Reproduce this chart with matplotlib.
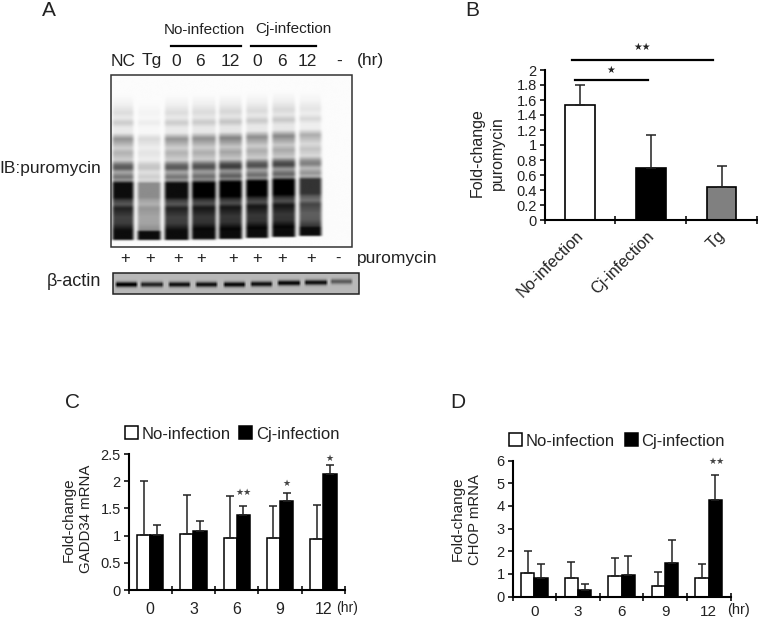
import numpy as np
import matplotlib
matplotlib.use("Agg")
import matplotlib.pyplot as plt

plt.rcParams['font.family'] = ['Liberation Sans', 'DejaVu Sans']
plt.rcParams['text.color'] = '#222222'
plt.rcParams['xtick.color'] = '#222222'
plt.rcParams['ytick.color'] = '#222222'

W, H = 758, 619

# panel B
b_names = ['No-infection', 'Cj-infection', 'Tg']
b_values = [1.54, 0.70, 0.44]
b_tops = [1.80, 1.13, 0.72]
b_colors = ['white', 'black', '#808080']
b_ticks = [0, 0.2, 0.4, 0.6, 0.8, 1, 1.2, 1.4, 1.6, 1.8, 2]

# panel C
hours = ['0', '3', '6', '9', '12']
c_none = [1.01, 1.03, 0.96, 0.96, 0.93]
c_none_tops = [2.00, 1.74, 1.72, 1.54, 1.56]
c_cj = [1.01, 1.08, 1.38, 1.63, 2.13]
c_cj_tops = [1.20, 1.26, 1.54, 1.79, 2.29]
c_ticks = [0, 0.5, 1, 1.5, 2, 2.5]

# panel D
d_none = [1.02, 0.80, 0.92, 0.47, 0.80]
d_none_tops = [2.02, 1.52, 1.68, 1.08, 1.42]
d_cj = [0.80, 0.30, 0.97, 1.47, 4.25]
d_cj_tops = [1.42, 0.53, 1.80, 2.50, 5.37]
d_ticks = [0, 1, 2, 3, 4, 5, 6]

# blot A, band profile read down a lane (y pixel, darkness)
band_y = [92, 105, 113, 118, 123, 128, 133, 139, 143, 148, 153, 160, 165, 168, 172, 177, 180, 183,
          197, 200, 204, 208, 217, 223, 230, 237, 239, 240]
band_dark = [0, .07, .16, .1, .24, .1, .1, .5, .38, .22, .36, .22, .7, .78, .4, .65, .45, 1,
             1, .8, .68, .92, .78, .8, 1, 1, 1, 0]
lane_left = [113, 138, 165, 192, 219, 246, 272, 299]
lane_right = [134, 161, 189, 216, 242, 268, 295, 321]
lane_upper = [.85, .3, .85, .9, 1, .9, .95, .65]
lane_lower = [.95, .45, .95, 1, 1, 1, 1, .8]
lane_shift = [0, 0, 0, -.5, -1, -2, -3, -4]

actin_left = [115, 140, 168, 195, 223, 250, 277, 304, 330]
actin_right = [137, 163, 190, 217, 245, 272, 300, 327, 352]
actin_strength = [1, .8, .9, .9, .95, .9, .95, .9, .5]
actin_y = [284, 284, 284, 284, 284, 283.5, 282.5, 282, 281]


def px_axes(left, right, top, bottom):
    return fig.add_axes([left / W, 1 - bottom / H, (right - left) / W, (bottom - top) / H])


def soften(img):
    kernel = [.25, .5, .25]
    img = np.apply_along_axis(lambda r: np.convolve(r, kernel, mode='same'), 0, img)
    img = np.apply_along_axis(lambda r: np.convolve(r, kernel, mode='same'), 1, img)
    return img


def style(ax, ticks, size):
    ax.spines['top'].set_visible(False)
    ax.spines['right'].set_visible(False)
    ax.spines['left'].set_linewidth(1.5)
    ax.spines['bottom'].set_linewidth(1.5)
    ax.set_yticks(ticks)
    ax.set_yticklabels([str(t) for t in ticks], fontsize=size)
    ax.tick_params(axis='y', direction='out', length=3.5, width=1.3, pad=2)
    ax.patch.set_alpha(0)


def group_bars(ax, none, none_tops, cj, cj_tops):
    x = np.arange(len(none))
    w = 0.305
    e1 = np.array(none_tops) - np.array(none)
    e2 = np.array(cj_tops) - np.array(cj)
    err = dict(ecolor='#222222', elinewidth=1.1, capsize=3, capthick=1.1)
    b1 = ax.bar(x - w / 2, none, w, color='white', edgecolor='black', linewidth=1.1,
                yerr=[np.zeros(len(none)), e1], error_kw=err, label='No-infection')
    b2 = ax.bar(x + w / 2, cj, w, color='black', edgecolor='black', linewidth=1.1,
                yerr=[np.zeros(len(cj)), e2], error_kw=err, label='Cj-infection')
    ax.set_xlim(-0.5, len(none) - 0.5)
    ax.set_xticks(np.arange(len(none) + 1) - 0.5)
    ax.set_xticklabels([])
    ax.tick_params(axis='x', direction='inout', length=6, width=1.3)
    return b1, b2


fig = plt.figure(figsize=(W / 100, H / 100), dpi=100)

# page axes in pixels for blots and loose text
page = fig.add_axes([0, 0, 1, 1], zorder=5)
page.set_xlim(0, W)
page.set_ylim(H, 0)
page.axis('off')
page.patch.set_alpha(0)

# main blot
rows = np.arange(76, 247)
cols = np.arange(112, 352)
blot = np.full((len(rows), len(cols)), 0.015)
for left, right, up, low, sh in zip(lane_left, lane_right, lane_upper, lane_lower, lane_shift):
    edge = np.clip((cols - left + 2) / 4, 0, 1) * np.clip((right + 2 - cols) / 4, 0, 1)
    prof = np.interp(rows, np.array(band_y) + sh, band_dark)
    strength = np.where(rows < 183 + sh, up, low)
    # the bottom band stays strong in every lane
    strength = np.where(rows > 230 + sh, .95, strength)
    blot = np.maximum(blot, np.outer(prof * strength, edge))
page.imshow(1 - soften(blot), cmap='gray', vmin=0, vmax=1, extent=[111, 352, 247, 75], aspect='auto',
            interpolation='bicubic', zorder=1)
page.add_patch(plt.Rectangle((111, 75), 241, 172, fill=False, edgecolor='#333333', linewidth=1.1, zorder=2))

# actin blot
rows2 = np.arange(273, 294)
cols2 = np.arange(113, 359)
actin = np.full((len(rows2), len(cols2)), 0.28)
for left, right, s, yy in zip(actin_left, actin_right, actin_strength, actin_y):
    edge = np.clip((cols2 - left + 1) / 3, 0, 1) * np.clip((right + 1 - cols2) / 3, 0, 1)
    prof = np.exp(-((rows2 - yy) / 2.6) ** 2)
    actin = np.maximum(actin, 0.28 + 0.72 * np.outer(prof * s, edge))
page.imshow(1 - actin, cmap='gray', vmin=0, vmax=1, extent=[113, 359, 294, 273], aspect='auto',
            interpolation='bicubic', zorder=1)
page.add_patch(plt.Rectangle((113, 273), 246, 21, fill=False, edgecolor='#222222', linewidth=1.1, zorder=2))
page.set_xlim(0, W)
page.set_ylim(H, 0)

# A labels
page.text(49, 11, 'A', fontsize=15, ha='center', va='center')
page.text(204, 30, 'No-infection', fontsize=11, ha='center', va='center')
page.text(293, 29, 'Cj-infection', fontsize=11, ha='center', va='center')
page.plot([171, 241], [46, 46], color='black', lw=1.6)
page.plot([251, 316], [46, 46], color='black', lw=1.6)
lane_names = ['NC', 'Tg', '0', '6', '12', '0', '6', '12', '-', '(hr)']
lane_name_x = [123, 152, 176, 200, 230, 257, 282, 307, 339, 370]
for name, xx in zip(lane_names, lane_name_x):
    page.text(xx, 61, name, fontsize=12.5, ha='center', va='center')
plus_x = [125, 150, 178, 201, 233, 257, 282, 311]
for xx in plus_x:
    page.text(xx, 258, '+', fontsize=12, ha='center', va='center')
page.text(338, 258, '-', fontsize=12, ha='center', va='center')
page.text(357, 258, 'puromycin', fontsize=12.5, ha='left', va='center')
page.text(101, 168, 'IB:puromycin', fontsize=12.5, ha='right', va='center')
page.text(101, 282, 'β-actin', fontsize=13, ha='right', va='center')

# panel B
axb = px_axes(544.5, 757, 70, 220)
style(axb, b_ticks, 10.5)
b_x = [0.5, 1.5, 2.5]
axb.bar(b_x, b_values, 0.42, color=b_colors, edgecolor='black', linewidth=1.2,
        yerr=[np.zeros(3), np.array(b_tops) - np.array(b_values)],
        error_kw=dict(ecolor='#222222', elinewidth=1.1, capsize=3.5, capthick=1.1))
axb.set_xlim(0, 3)
axb.set_ylim(0, 2)
axb.set_xticks([0, 1, 2, 3])
axb.set_xticklabels([])
axb.tick_params(axis='x', direction='inout', length=6, width=1.3)
for xx, name in zip(b_x, b_names):
    axb.annotate(name, (xx, 0), xytext=(-3, -6), textcoords='offset points', rotation=45,
                 ha='right', va='top', rotation_mode='anchor', fontsize=11.7, xycoords='data')
page.text(477, 153, 'Fold-change', fontsize=11.5, rotation=90, ha='center', va='center')
page.text(497, 153, 'puromycin', fontsize=11.5, rotation=90, ha='center', va='center')
page.text(472, 10, 'B', fontsize=15, ha='center', va='center')
page.plot([572, 713], [60, 60], color='black', lw=1.6)
page.plot([575, 648], [80, 80], color='black', lw=1.6)
page.text(642, 47, '★★', fontsize=7, ha='center', va='center')
page.text(611, 70, '★', fontsize=7, ha='center', va='center')

# panel C
axc = px_axes(128.5, 345, 454, 590)
style(axc, c_ticks, 10.5)
b1, b2 = group_bars(axc, c_none, c_none_tops, c_cj, c_cj_tops)
axc.set_ylim(0, 2.5)
for i, name in enumerate(hours):
    axc.text(i, -0.22, name, fontsize=11.5, ha='center', va='top')
axc.legend(handles=[b1, b2], ncol=2, frameon=False, fontsize=12, loc='center left',
           bbox_to_anchor=(125 / W, 1 - 434 / H), bbox_transform=fig.transFigure,
           handlelength=0.8, handleheight=0.8, handletextpad=0.2, columnspacing=0.5, borderpad=0, borderaxespad=0)
page.text(73, 403, 'C', fontsize=15, ha='center', va='center')
page.text(69, 520, 'Fold-change', fontsize=11, rotation=90, ha='center', va='center')
page.text(86, 519, 'GADD34 mRNA', fontsize=10.8, rotation=90, ha='center', va='center')
page.text(347, 608, '(hr)', fontsize=10, ha='center', va='center')
page.text(244, 492, '★★', fontsize=6.5, ha='center', va='center', color='#444444')
page.text(286, 483, '★', fontsize=6.5, ha='center', va='center', color='#444444')
page.text(329, 458, '★', fontsize=6.5, ha='center', va='center', color='#444444')

# panel D
axd = px_axes(512.5, 730.5, 460.5, 596.5)
style(axd, d_ticks, 10.5)
b3, b4 = group_bars(axd, d_none, d_none_tops, d_cj, d_cj_tops)
axd.set_ylim(0, 6)
for i, name in enumerate(hours):
    axd.text(i, -0.36, name, fontsize=11, ha='center', va='top')
axd.legend(handles=[b3, b4], ncol=2, frameon=False, fontsize=12, loc='center left',
           bbox_to_anchor=(509 / W, 1 - 441 / H), bbox_transform=fig.transFigure,
           handlelength=0.8, handleheight=0.8, handletextpad=0.2, columnspacing=0.6, borderpad=0, borderaxespad=0)
page.text(458, 403, 'D', fontsize=15, ha='center', va='center')
page.text(458, 519, 'Fold-change', fontsize=11, rotation=90, ha='center', va='center')
page.text(475, 520, 'CHOP mRNA', fontsize=10.7, rotation=90, ha='center', va='center')
page.text(739, 610, '(hr)', fontsize=10.5, ha='center', va='center')
page.text(717, 461, '★★', fontsize=6.5, ha='center', va='center', color='#444444')

fig.savefig('out.png', dpi=100)
